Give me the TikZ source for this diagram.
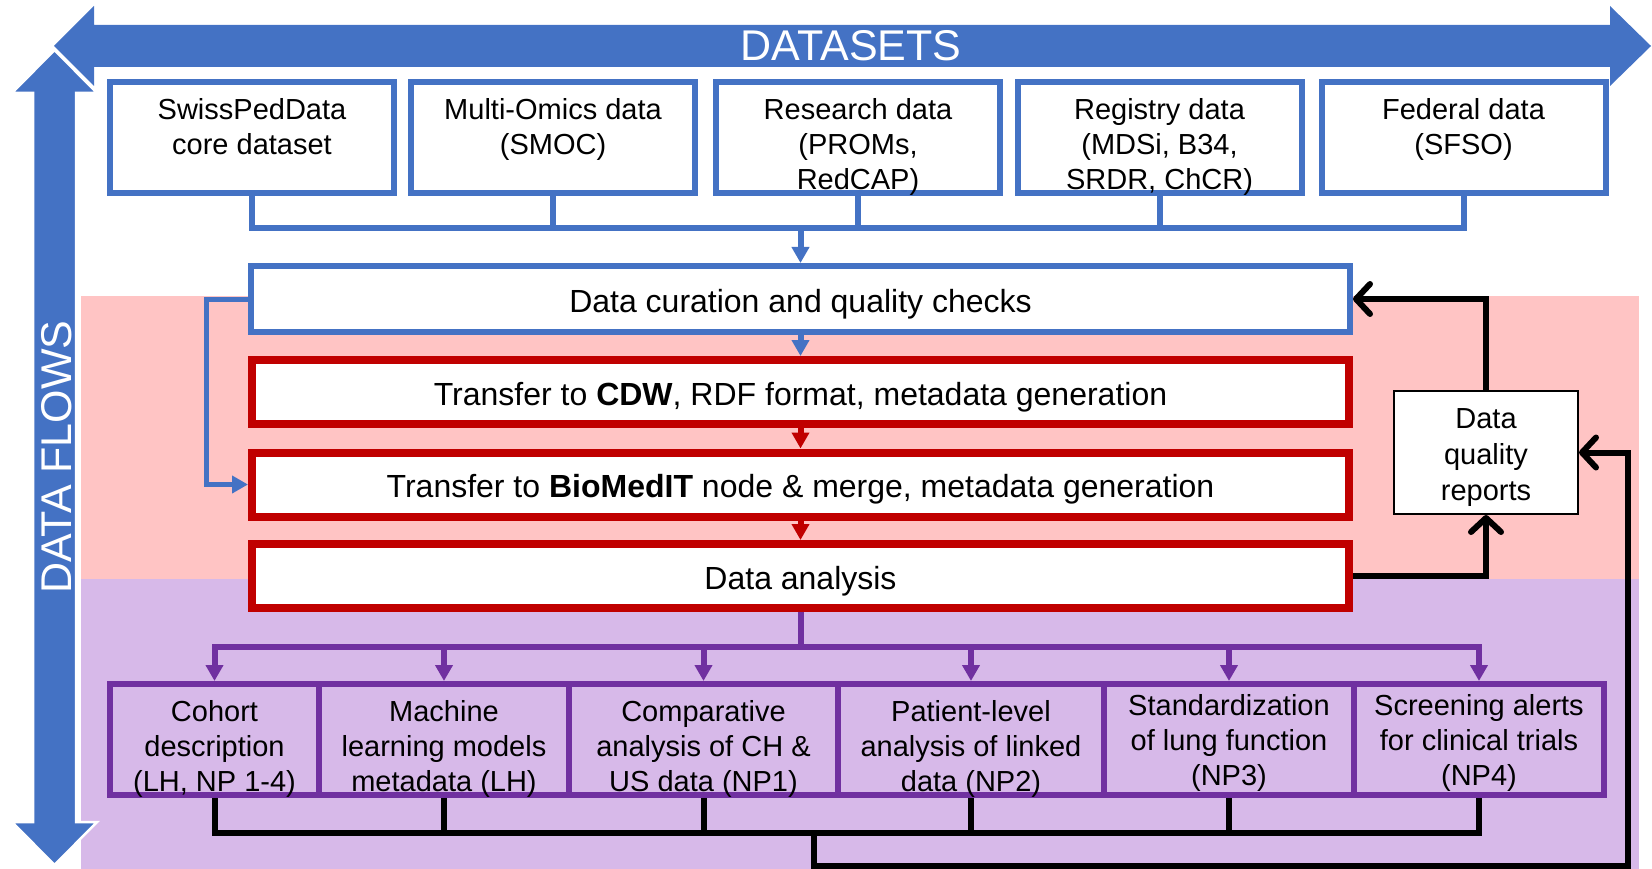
\documentclass[tikz,border=0pt]{standalone}
\usepackage{fontspec}
\setmainfont{Liberation Sans}
\usetikzlibrary{arrows.meta}
\definecolor{ublue}{HTML}{4472C4}
\definecolor{ured}{HTML}{C00000}
\definecolor{upurple}{HTML}{7030A0}
\definecolor{pinkbg}{HTML}{FFC4C4}
\definecolor{purplebg}{HTML}{D7B9E9}
\tikzset{
 dsbox/.style={draw=ublue, line width=6pt, fill=white, minimum width=284pt, minimum height=111pt, inner sep=0pt},
 bluebox/.style={draw=ublue, line width=6pt, fill=white, minimum width=1099pt, minimum height=66pt, inner sep=0pt, text height=30pt, text depth=3.3pt, font=\fontsize{32}{38}\selectfont},
 redbox/.style={draw=ured, line width=8pt, fill=white, minimum width=1097pt, minimum height=64pt, inner sep=0pt, text height=30pt, text depth=3.3pt, font=\fontsize{32}{38}\selectfont},
 pbox/.style={draw=upurple, line width=6pt, minimum height=111pt, inner sep=0pt},
 dqbox/.style={draw=black, line width=2pt, fill=white, minimum width=184pt, minimum height=123pt, inner sep=0pt},
 txt/.style={anchor=base, inner sep=0pt, font=\fontsize{29}{35}\selectfont},
 dqtxt/.style={anchor=base, inner sep=0pt, font=\fontsize{29}{36}\selectfont},
 bigtxt/.style={white, inner sep=0pt, font=\fontsize{43}{50}\selectfont},
 bline/.style={draw=ublue, line width=6pt},
 pline/.style={draw=upurple, line width=6pt},
 kline/.style={draw=black, line width=6pt},
 tri/.style={-{Triangle[length=16pt,width=17pt]}},
 barb/.style={-{Straight Barb[length=14pt,width=30pt,round]}},
}
\newcommand{\ml}[1]{\begin{tabular}[t]{@{}c@{}}#1\end{tabular}}
\begin{document}
\begin{tikzpicture}[x=1pt,y=-1pt]
\useasboundingbox (0,0) rectangle (1652,869);
% backgrounds
\fill[pinkbg] (81,296) rectangle (1639,579);
\fill[purplebg] (81,579) rectangle (1639,869);
% DATASETS arrow
\fill[ublue] (54,46) -- (94,6) -- (94,25) -- (1610,25) -- (1610,6) -- (1651,46) -- (1610,86) -- (1610,67) -- (94,67) -- (94,86) -- cycle;
\node[bigtxt] (dsl) at (851,46) {DATASETS};
% DATA FLOWS arrow
\filldraw[fill=ublue, draw=white, line width=2.5pt] (54.5,50) -- (97,93) -- (76,93) -- (76,822) -- (97,822) -- (54.5,865) -- (12,822) -- (33,822) -- (33,93) -- (12,93) -- cycle;
\node[bigtxt, rotate=90] (dfl) at (57,457) {DATA FLOWS};
% dataset boxes
\node[dsbox] (b1) at (252,137.5) {};
\node[dsbox] (b2) at (553,137.5) {};
\node[dsbox] (b3) at (858,137.5) {};
\node[dsbox] (b4) at (1159.5,137.5) {};
\node[dsbox] (b5) at (1463.5,137.5) {};
% middle boxes
\node[bluebox] (cur) at (800.5,299) {Data curation and quality checks};
\node[redbox] (cdw) at (800.5,392) {Transfer to \textbf{CDW}, RDF format, metadata generation};
\node[redbox] (bio) at (800.5,484.5) {Transfer to \textbf{BioMedIT} node \& merge, metadata generation};
\node[redbox] (ana) at (800.5,576) {Data analysis};
% data quality box
\node[dqbox] (dq) at (1486,452.5) {};
\node[dqtxt] (dqt) at (1486,428) {\ml{Data\\quality\\reports}};
% purple boxes
\node[pbox, minimum width=209pt] (p1) at (214.5,739.5) {};
\node[pbox, minimum width=250pt] (p2) at (444,739.5) {};
\node[pbox, minimum width=269pt] (p3) at (703.5,739.5) {};
\node[pbox, minimum width=266pt] (p4) at (971,739.5) {};
\node[pbox, minimum width=250pt] (p5) at (1229,739.5) {};
\node[pbox, minimum width=250pt] (p6) at (1479,739.5) {};
% blue connectors
\coordinate (bar) at (800,228);
\draw[bline] (b1.south) -- (b1.south |- bar) -- (b5.south |- bar) -- (b5.south);
\draw[bline] (b2.south) -- (b2.south |- bar);
\draw[bline] (b3.south) -- (b3.south |- bar);
\draw[bline] (b4.south) -- (b4.south |- bar);
\draw[bline, tri] (cur.north |- bar) -- (cur.north);
\draw[bline, tri] (cur.south) -- (cdw.north);
\draw[ublue, line width=5pt, tri] (cur.west) -- ++(-42,0) |- (bio.west);
% red connectors
\draw[draw=ured, line width=6pt, tri] (cdw.south) -- (bio.north);
\draw[draw=ured, line width=6pt, tri] (bio.south) -- (ana.north);
% purple connectors
\coordinate (pbar) at (800,647);
\draw[pline] (ana.south) -- (ana.south |- pbar);
\draw[pline, {Triangle[length=16pt,width=17pt]}-{Triangle[length=16pt,width=17pt]}] (p1.north) -- (p1.north |- pbar) -- (p6.north |- pbar) -- (p6.north);
\draw[pline, tri] (p2.north |- pbar) -- (p2.north);
\draw[pline, tri] (p3.north |- pbar) -- (p3.north);
\draw[pline, tri] (p4.north |- pbar) -- (p4.north);
\draw[pline, tri] (p5.north |- pbar) -- (p5.north);
% black connectors
\draw[kline, barb] (dq.north) |- (cur.east);
\draw[kline, barb] (ana.east) -| (dq.south);
\coordinate (kbar) at (800,833);
\draw[kline] (p1.south) -- (p1.south |- kbar) -- (p6.south |- kbar) -- (p6.south);
\draw[kline] (p2.south) -- (p2.south |- kbar);
\draw[kline] (p3.south) -- (p3.south |- kbar);
\draw[kline] (p4.south) -- (p4.south |- kbar);
\draw[kline] (p5.south) -- (p5.south |- kbar);
\coordinate (kdrop) at (814,833);
\coordinate (kbot) at (1628,866);
\draw[kline, barb] (kdrop) |- (kbot) |- (dq.east);
% texts of dataset boxes
\node[txt] (t1) at (252,120) {\ml{SwissPedData\\core dataset}};
\node[txt] (t2) at (553,120) {\ml{Multi-Omics data\\(SMOC)}};
\node[txt] (t3) at (858,120) {\ml{Research data\\(PROMs,\\RedCAP)}};
\node[txt] (t4) at (1159.5,120) {\ml{Registry data\\(MDSi, B34,\\SRDR, ChCR)}};
\node[txt] (t5) at (1463.5,120) {\ml{Federal data\\(SFSO)}};
% texts of purple boxes
\node[txt] (q1) at (214.5,721) {\ml{Cohort\\description\\(LH, NP 1-4)}};
\node[txt] (q2) at (444,721) {\ml{Machine\\learning models\\metadata (LH)}};
\node[txt] (q3) at (703.5,721) {\ml{Comparative\\analysis of CH \&\\US data (NP1)}};
\node[txt] (q4) at (971,721) {\ml{Patient-level\\analysis of linked\\data (NP2)}};
\node[txt] (q5) at (1229,715) {\ml{Standardization\\of lung function\\(NP3)}};
\node[txt] (q6) at (1479,715) {\ml{Screening alerts\\for clinical trials\\(NP4)}};
\end{tikzpicture}
\end{document}
